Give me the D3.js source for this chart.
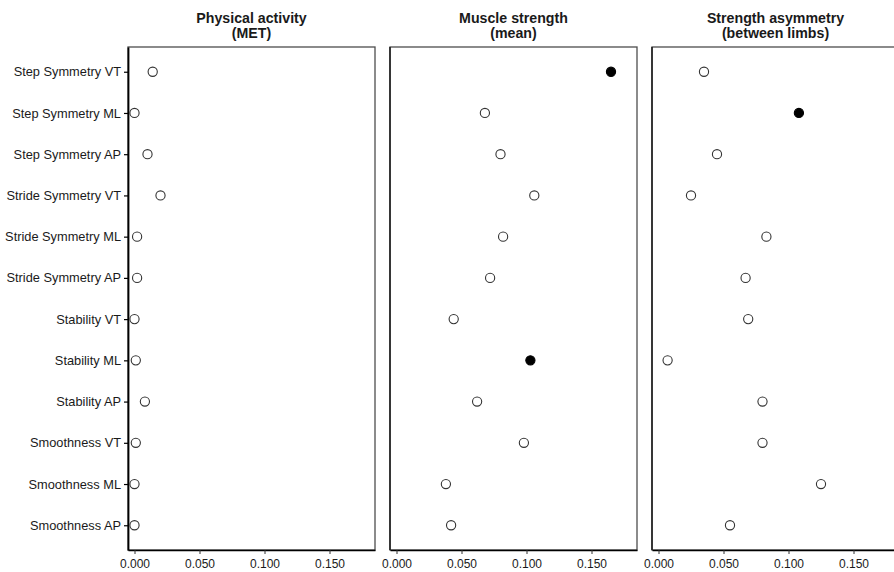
<!DOCTYPE html>
<html>
<head>
<meta charset="utf-8">
<script src="https://cdn.jsdelivr.net/npm/d3@7"></script>
<style>
	body { margin: 0; background: #fff; }
	svg { font-family: "Liberation Sans", Arial, sans-serif; }
</style>
</head>
<body>
<div id="chart"></div>
<script>
// dot chart, three panels sharing the gait categories

let categories 	= [ "Step Symmetry VT", "Step Symmetry ML", "Step Symmetry AP",
					"Stride Symmetry VT", "Stride Symmetry ML", "Stride Symmetry AP",
					"Stability VT", "Stability ML", "Stability AP",
					"Smoothness VT", "Smoothness ML", "Smoothness AP" ] ;

let titles 		= [ [ "Physical activity", "(MET)" ],
					[ "Muscle strength", "(mean)" ],
					[ "Strength asymmetry", "(between limbs)" ] ] ;

let metValues 		= [ 0.014, 0.000, 0.010, 0.020, 0.002, 0.002, 0.000, 0.001, 0.008, 0.001, 0.000, 0.000 ] ;
let strengthValues 	= [ 0.165, 0.068, 0.080, 0.106, 0.082, 0.072, 0.044, 0.103, 0.062, 0.098, 0.038, 0.042 ] ;
let asymValues 		= [ 0.035, 0.108, 0.045, 0.025, 0.083, 0.067, 0.069, 0.007, 0.080, 0.080, 0.125, 0.055 ] ;

// 1 = significant (filled dot)
let metSig 			= [ 0, 0, 0, 0, 0, 0, 0, 0, 0, 0, 0, 0 ] ;
let strengthSig 	= [ 1, 0, 0, 0, 0, 0, 0, 1, 0, 0, 0, 0 ] ;
let asymSig 		= [ 0, 1, 0, 0, 0, 0, 0, 0, 0, 0, 0, 0 ] ;

let xTicks 		= [ 0, 0.05, 0.10, 0.15 ] ;
let xDomain 	= [ -0.005, 0.185 ] ;

let series 	= [ { values: metValues, sig: metSig },
				{ values: strengthValues, sig: strengthSig },
				{ values: asymValues, sig: asymSig } ] ;

let svgwidth 	= 894 ;
let svgheight 	= 572 ;

let panelTop 	= 47 ;
let panelW 		= 247 ;
let panelH 		= 503 ;
let panelLefts 	= [ 128, 390, 652 ] ;

let svg = d3.select("#chart").append("svg")
			.attr("width", svgwidth)
			.attr("height", svgheight) ;

let x = d3.scaleLinear().domain( xDomain ).range([ 0, panelW ]) ;
let y = d3.scalePoint().domain( categories ).range([ 0, panelH ]).padding(0.6) ;

series.forEach( (s, p) => {

	let g = svg.append("g")
				.attr("transform", "translate(" + panelLefts[p] + "," + panelTop + ")") ;

	// panel border
	g.append("rect")
		.attr("width", panelW)
		.attr("height", panelH)
		.attr("fill", "none")
		.attr("stroke", "#4d4d4d")
		.attr("stroke-width", 1.3) ;

	// X axis
	let xa = g.append("g")
		.attr("transform", "translate(0," + panelH + ")")
		.call( d3.axisBottom(x).tickValues(xTicks).tickFormat(d3.format(".3f")).tickSize(4).tickSizeOuter(0) ) ;
	xa.select(".domain").attr("stroke", "#000").attr("stroke-width", 1.5) ;
	xa.selectAll(".tick line").attr("stroke", "#333") ;
	xa.selectAll(".tick text").attr("font-size", 12).attr("fill", "#1a1a1a").attr("dy", "0.9em") ;

	// Y axis only on the first panel
	if( p == 0 ){
		let ya = g.append("g")
			.call( d3.axisLeft(y).tickSize(4).tickSizeOuter(0) ) ;
		ya.select(".domain").attr("stroke", "#000").attr("stroke-width", 1.8) ;
		ya.selectAll(".tick line").attr("stroke", "#000").attr("stroke-width", 1.2) ;
		ya.selectAll(".tick text").attr("font-size", 12.8).attr("fill", "#1a1a1a").attr("x", -7) ;
	}else{
		g.append("line")
			.attr("x1", 0).attr("x2", 0)
			.attr("y1", 0).attr("y2", panelH)
			.attr("stroke", "#1a1a1a")
			.attr("stroke-width", 1.5) ;
	}

	// titles
	let t = svg.append("text")
		.attr("x", panelLefts[p] + panelW / 2)
		.attr("text-anchor", "middle")
		.attr("font-size", 14.2)
		.attr("font-weight", "bold")
		.attr("fill", "#1a1a1a") ;
	t.append("tspan").attr("x", panelLefts[p] + panelW / 2).attr("y", 23).text( titles[p][0] ) ;
	t.append("tspan").attr("x", panelLefts[p] + panelW / 2).attr("y", 38).text( titles[p][1] ) ;

	// dots
	g.selectAll("circle.dot")
		.data( categories )
		.enter().append("circle")
			.attr("class", "dot")
			.attr("cx", (d, i) => x( s.values[i] ))
			.attr("cy", d => y(d))
			.attr("r", 4.6)
			.attr("fill", (d, i) => s.sig[i] ? "#000" : "#fff")
			.attr("stroke", (d, i) => s.sig[i] ? "#000" : "#333")
			.attr("stroke-width", 1.1) ;
});
</script>
</body>
</html>
